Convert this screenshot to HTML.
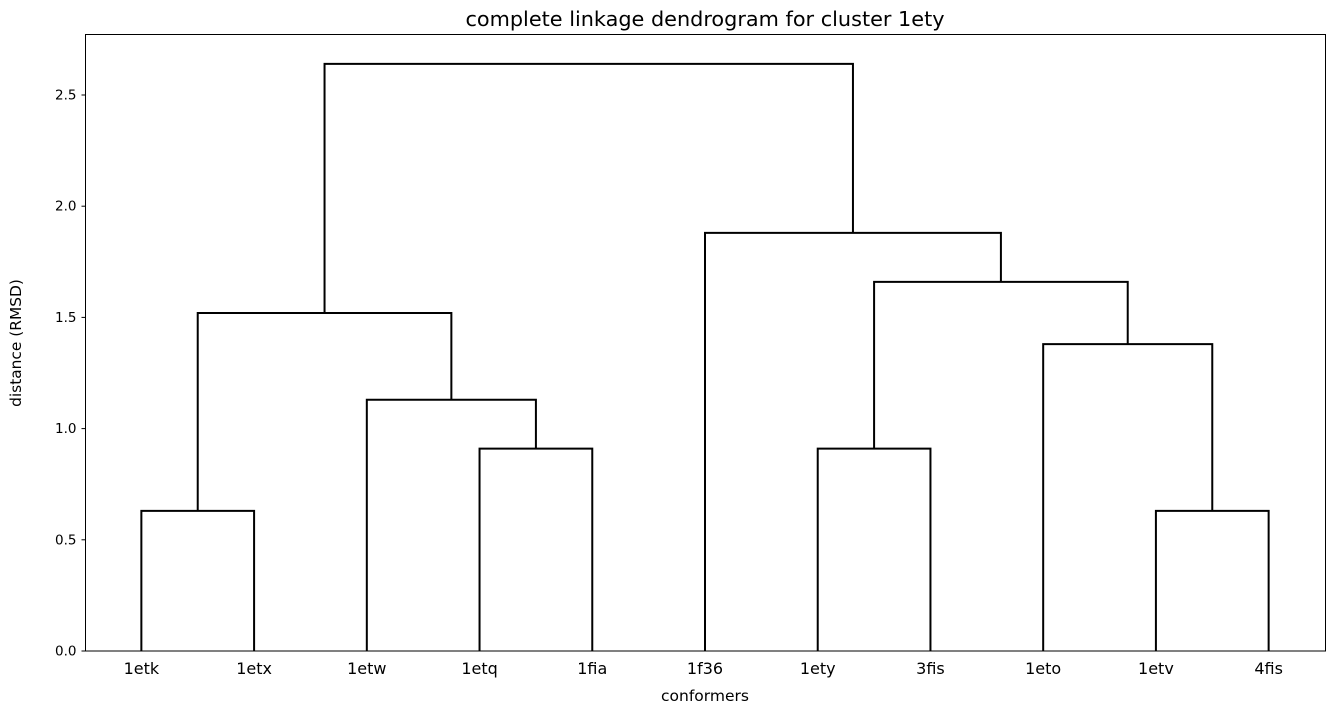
<!DOCTYPE html>
<html><head><meta charset="utf-8">
<style>
html,body{margin:0;padding:0;background:#fff;}
svg{display:block;font-family:"DejaVu Sans","Liberation Sans",sans-serif;}
</style></head>
<body>
<svg id="chart" width="1334" height="714">
<text x="705" y="26" font-size="20.8" text-anchor="middle">complete linkage dendrogram for cluster 1ety</text>
<text x="0" y="0" font-size="15.4" text-anchor="middle" transform="translate(21,343) rotate(-90)">distance (RMSD)</text>
<text x="705" y="701" font-size="15.5" text-anchor="middle">conformers</text>
<g id="links"></g>
<g id="yticks"></g>
<g id="xlabels"></g>
<rect x="85.5" y="34.5" width="1240" height="616.5" fill="none" stroke="#000" stroke-width="1"/>
</svg>
<script>
const leafLabels = ["1etk","1etx","1etw","1etq","1fia","1f36","1ety","3fis","1eto","1etv","4fis"];
const mergeLeft  = [0, 3, 6, 9, 2, 8, 11, 13, 5, 17];
const mergeRight = [1, 4, 7, 10, 12, 14, 15, 16, 18, 19];
const mergeHeight = [0.63, 0.91, 0.91, 0.63, 1.13, 1.38, 1.52, 1.66, 1.88, 2.64];
const yTicks = [0.0, 0.5, 1.0, 1.5, 2.0, 2.5];

const NS = "http://www.w3.org/2000/svg";
const plotL = 85, plotR = 1325, plotB = 651, y0px = 651, pxPerUnit = 222.4;
const nLeaves = leafLabels.length;
function xScale(pos) { return plotL + pos * (plotR - plotL) / (nLeaves * 10); }
function yScale(v) { return y0px - v * pxPerUnit; }

const nodeX = [], nodeH = [];
for (let i = 0; i < nLeaves; i++) { nodeX.push(5 + 10 * i); nodeH.push(0); }
const links = document.getElementById("links");
for (let k = 0; k < mergeHeight.length; k++) {
  const a = mergeLeft[k], b = mergeRight[k], h = mergeHeight[k];
  const xa = xScale(nodeX[a]), xb = xScale(nodeX[b]);
  const p = document.createElementNS(NS, "path");
  p.setAttribute("d", `M${xa},${yScale(nodeH[a])} L${xa},${yScale(h)} L${xb},${yScale(h)} L${xb},${yScale(nodeH[b])}`);
  p.setAttribute("fill", "none");
  p.setAttribute("stroke", "#000");
  p.setAttribute("stroke-width", "2");
  
  
  links.appendChild(p);
  nodeX.push((nodeX[a] + nodeX[b]) / 2);
  nodeH.push(h);
}

const yt = document.getElementById("yticks");
yTicks.forEach(v => {
  const y = yScale(v);
  const l = document.createElementNS(NS, "line");
  l.setAttribute("x1", plotL - 3.5); l.setAttribute("x2", plotL);
  l.setAttribute("y1", y); l.setAttribute("y2", y);
  l.setAttribute("stroke", "#000");
  
  
  yt.appendChild(l);
  const t = document.createElementNS(NS, "text");
  t.setAttribute("x", plotL - 8.5); t.setAttribute("y", y + 4.5);
  t.setAttribute("font-size", "13.5"); t.setAttribute("text-anchor", "end");
  t.textContent = v.toFixed(1);
  
  
  yt.appendChild(t);
});

const xl = document.getElementById("xlabels");
leafLabels.forEach((lab, i) => {
  const t = document.createElementNS(NS, "text");
  t.setAttribute("x", xScale(5 + 10 * i)); t.setAttribute("y", 674);
  t.setAttribute("font-size", "16"); t.setAttribute("text-anchor", "middle");
  t.textContent = lab;
  
  
  xl.appendChild(t);
});
</script>
</body></html>
